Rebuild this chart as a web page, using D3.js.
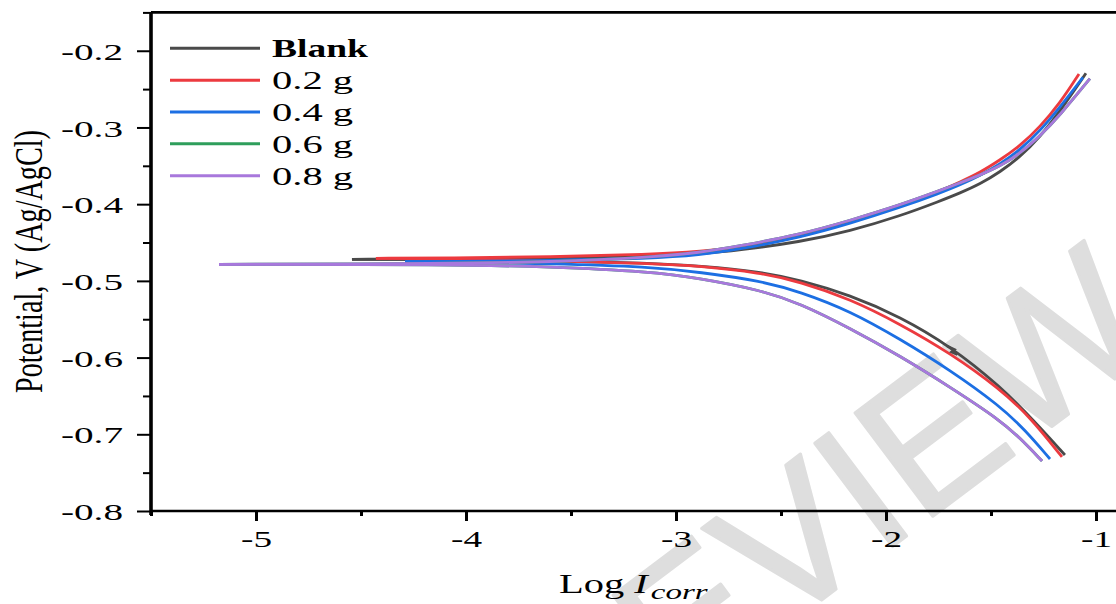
<!DOCTYPE html>
<html><head><meta charset="utf-8">
<script src="https://cdn.jsdelivr.net/npm/d3@7"></script>
<style>html,body{margin:0;padding:0;background:#fff;} svg{display:block;}</style>
</head><body>
<svg id="chart" width="1116" height="604"></svg>
<script>
// ---------- data ----------
const seriesNames = ["Blank", "0.2 g", "0.4 g", "0.6 g", "0.8 g"];
const seriesColors = ["#4a4a4a", "#ec3a3f", "#1c6fe3", "#2e9e5b", "#a878dc"];

// [log I, E] pairs; each branch runs from the corrosion-potential tip outward (log I increasing)
const blankCathodic = [[-4.543,-0.4719],[-4.076,-0.4721],[-3.600,-0.4734],[-3.124,-0.4767],[-2.886,-0.4806],[-2.600,-0.4880],[-2.410,-0.4989],[-2.171,-0.5184],[-1.933,-0.5467],[-1.695,-0.5849],[-1.457,-0.6370],[-1.290,-0.6840],[-1.148,-0.7270]];
const blankAnodic = [[-4.543,-0.4719],[-4.076,-0.4715],[-3.600,-0.4708],[-3.124,-0.4682],[-2.886,-0.4650],[-2.695,-0.4598],[-2.410,-0.4493],[-2.171,-0.4350],[-1.933,-0.4154],[-1.743,-0.3959],[-1.648,-0.3855],[-1.552,-0.3737],[-1.457,-0.3581],[-1.362,-0.3385],[-1.267,-0.3124],[-1.171,-0.2786],[-1.048,-0.2294]];
const blankKink = [[-1.710,-0.5848],[-1.674,-0.5896],[-1.688,-0.5926],[-1.660,-0.5962]];

const g02Cathodic = [[-4.429,-0.4706],[-4.076,-0.4715],[-3.600,-0.4737],[-3.124,-0.4771],[-2.886,-0.4806],[-2.600,-0.4893],[-2.410,-0.5011],[-2.171,-0.5236],[-1.933,-0.5562],[-1.695,-0.5940],[-1.457,-0.6410],[-1.314,-0.6775],[-1.162,-0.7296]];
const g02Anodic = [[-4.429,-0.4706],[-4.076,-0.4702],[-3.600,-0.4689],[-3.124,-0.4654],[-2.886,-0.4617],[-2.648,-0.4552],[-2.410,-0.4428],[-2.171,-0.4233],[-1.933,-0.4024],[-1.743,-0.3828],[-1.648,-0.3711],[-1.552,-0.3587],[-1.457,-0.3424],[-1.362,-0.3242],[-1.267,-0.2994],[-1.171,-0.2681],[-1.081,-0.2303]];

const g04Cathodic = [[-4.290,-0.4750],[-4.076,-0.4754],[-3.600,-0.4774],[-3.124,-0.4815],[-2.886,-0.4888],[-2.600,-0.4998],[-2.410,-0.5141],[-2.171,-0.5393],[-1.933,-0.5758],[-1.695,-0.6162],[-1.457,-0.6631],[-1.338,-0.6944],[-1.219,-0.7322]];
const g04Anodic = [[-4.290,-0.4750],[-4.076,-0.4748],[-3.600,-0.4734],[-3.124,-0.4708],[-2.886,-0.4663],[-2.695,-0.4585],[-2.410,-0.4435],[-2.171,-0.4252],[-1.933,-0.4044],[-1.743,-0.3855],[-1.648,-0.3750],[-1.552,-0.3626],[-1.457,-0.3476],[-1.362,-0.3294],[-1.267,-0.3046],[-1.171,-0.2733],[-1.062,-0.2346]];

const g06Cathodic = [[-5.176,-0.4784],[-4.076,-0.4787],[-3.600,-0.4815],[-3.124,-0.4880],[-2.886,-0.4966],[-2.600,-0.5119],[-2.410,-0.5292],[-2.171,-0.5618],[-1.933,-0.5979],[-1.695,-0.6383],[-1.457,-0.6814],[-1.362,-0.7049],[-1.257,-0.7348]];
const g06Anodic = [[-5.176,-0.4784],[-4.076,-0.4774],[-3.600,-0.4754],[-3.124,-0.4695],[-2.886,-0.4630],[-2.695,-0.4545],[-2.410,-0.4396],[-2.171,-0.4213],[-1.933,-0.4011],[-1.743,-0.3822],[-1.648,-0.3724],[-1.552,-0.3620],[-1.457,-0.3503],[-1.362,-0.3340],[-1.267,-0.3112],[-1.171,-0.2838],[-1.029,-0.2364]];

const g08Cathodic = [[-5.176,-0.4784],[-4.076,-0.4787],[-3.600,-0.4815],[-3.124,-0.4880],[-2.886,-0.4966],[-2.600,-0.5119],[-2.410,-0.5292],[-2.171,-0.5618],[-1.933,-0.5979],[-1.695,-0.6383],[-1.457,-0.6814],[-1.362,-0.7049],[-1.257,-0.7348]];
const g08Anodic = [[-5.176,-0.4784],[-4.076,-0.4774],[-3.600,-0.4754],[-3.124,-0.4695],[-2.886,-0.4630],[-2.695,-0.4545],[-2.410,-0.4396],[-2.171,-0.4213],[-1.933,-0.4011],[-1.743,-0.3822],[-1.648,-0.3724],[-1.552,-0.3620],[-1.457,-0.3503],[-1.362,-0.3340],[-1.267,-0.3112],[-1.171,-0.2838],[-1.029,-0.2364]];

const cathodicBranches = [blankCathodic, g02Cathodic, g04Cathodic, g06Cathodic, g08Cathodic];
const anodicBranches = [blankAnodic, g02Anodic, g04Anodic, g06Anodic, g08Anodic];

const xDomain = [-5.5, -0.9];
const yDomain = [-0.8, -0.15];
const xMajorTicks = [-5, -4, -3, -2, -1];
const xMinorTicks = [-5.5, -4.5, -3.5, -2.5, -1.5];
const yMajorTicks = [-0.8, -0.7, -0.6, -0.5, -0.4, -0.3, -0.2];
const yMinorTicks = [-0.75, -0.65, -0.55, -0.45, -0.35, -0.25, -0.15];
const xTitle = ["Log ", "I", "corr"];
const yTitle = "Potential, V (Ag/AgCl)";
const watermarkText = "PREVIEW";

// ---------- drawing ----------
const svg = d3.select("#chart");
const pLeft = 151, pRight = 1117, pTop = 12.4, pBottom = 511;
const x = d3.scaleLinear().domain(xDomain).range([pLeft, pRight]);
const y = d3.scaleLinear().domain(yDomain).range([pBottom, pTop]);
const serif = "'Liberation Serif','Times New Roman',serif";

// watermark
svg.append("text")
  .attr("transform", "translate(470,865) rotate(-37)")
  .attr("font-family", "'Liberation Sans',Arial,sans-serif")
  .attr("font-size", 188)
  .attr("fill", "#dedede")
  .attr("stroke", "#dedede").attr("stroke-width", 3).attr("stroke-linejoin", "round")
  .text(watermarkText);

// curves
const line = d3.line().x(d => x(d[0])).y(d => y(d[1])).curve(d3.curveBasis);
seriesNames.forEach((name, i) => {
  [cathodicBranches[i], anodicBranches[i]].forEach(branch => {
    svg.append("path").datum(branch)
      .attr("d", line).attr("fill", "none")
      .attr("stroke", seriesColors[i]).attr("stroke-width", 2.8)
      .attr("stroke-linejoin", "round").attr("stroke-linecap", "butt");
  });
});
svg.append("path").datum(blankKink)
  .attr("d", d3.line().x(d => x(d[0])).y(d => y(d[1])))
  .attr("fill", "none").attr("stroke", seriesColors[0]).attr("stroke-width", 2.6)
  .attr("stroke-linejoin", "miter");

// frame
svg.append("line").attr("x1", pLeft).attr("x2", pLeft).attr("y1", pTop).attr("y2", 515)
  .attr("stroke", "#000").attr("stroke-width", 3.6);
svg.append("line").attr("x1", pLeft).attr("x2", 1116).attr("y1", pBottom).attr("y2", pBottom)
  .attr("stroke", "#000").attr("stroke-width", 2.6);
svg.append("line").attr("x1", pLeft).attr("x2", 1116).attr("y1", pTop).attr("y2", pTop)
  .attr("stroke", "#000").attr("stroke-width", 2.6);

// y axis
const gy = svg.append("g").attr("transform", `translate(${pLeft},0)`)
  .call(d3.axisLeft(y).tickValues(yMajorTicks).tickSize(14).tickPadding(14).tickFormat(d => d.toFixed(1)));
gy.select(".domain").remove();
gy.selectAll(".tick line").attr("stroke", "#000").attr("stroke-width", 2);
gy.selectAll(".tick text").attr("font-family", serif).attr("font-size", 24).attr("fill", "#000")
  .attr("dy", "0.36em").attr("textLength", 62).attr("lengthAdjust", "spacingAndGlyphs");
const gym = svg.append("g").attr("transform", `translate(${pLeft},0)`)
  .call(d3.axisLeft(y).tickValues(yMinorTicks).tickSize(8).tickFormat(""));
gym.select(".domain").remove();
gym.selectAll(".tick line").attr("stroke", "#000").attr("stroke-width", 2);

// x axis
const gx = svg.append("g").attr("transform", `translate(0,${pBottom})`)
  .call(d3.axisBottom(x).tickValues(xMajorTicks).tickSize(10).tickPadding(9).tickFormat(d => String(d)));
gx.select(".domain").remove();
gx.selectAll(".tick line").attr("stroke", "#000").attr("stroke-width", 3);
gx.selectAll(".tick text").attr("font-family", serif).attr("font-size", 24).attr("fill", "#000")
  .attr("textLength", 31).attr("lengthAdjust", "spacingAndGlyphs");
const gxm = svg.append("g").attr("transform", `translate(0,${pBottom})`)
  .call(d3.axisBottom(x).tickValues(xMinorTicks).tickSize(5).tickFormat(""));
gxm.select(".domain").remove();
gxm.selectAll(".tick line").attr("stroke", "#000").attr("stroke-width", 3);

// axis titles
svg.append("text")
  .attr("transform", "translate(42,261.5) rotate(-90)")
  .attr("text-anchor", "middle").attr("font-family", serif).attr("font-size", 40)
  .attr("textLength", 263).attr("lengthAdjust", "spacingAndGlyphs")
  .text(yTitle);
const xt = svg.append("text")
  .attr("transform", "translate(559,593) scale(1.5,1)")
  .attr("font-family", serif).attr("font-size", 27).attr("fill", "#000");
xt.append("tspan").text(xTitle[0]);
xt.append("tspan").attr("font-style", "italic").text(xTitle[1]);
xt.append("tspan").attr("font-style", "italic").attr("font-size", 22).attr("dx", 2).attr("dy", 6).text(xTitle[2]);

// legend
const legend = svg.append("g");
seriesNames.forEach((name, i) => {
  const ly = 48.3 + i * 31.85;
  legend.append("line").attr("x1", 170).attr("x2", 260).attr("y1", ly).attr("y2", ly)
    .attr("stroke", seriesColors[i]).attr("stroke-width", 3);
  legend.append("text").attr("x", 272).attr("y", ly + 9)
    .attr("font-family", serif).attr("font-size", 25).attr("fill", "#000")
    .attr("font-weight", i === 0 ? "bold" : "normal")
    .attr("textLength", i === 0 ? 96 : 81).attr("lengthAdjust", "spacingAndGlyphs")
    .text(name);
});
</script>
</body></html>
